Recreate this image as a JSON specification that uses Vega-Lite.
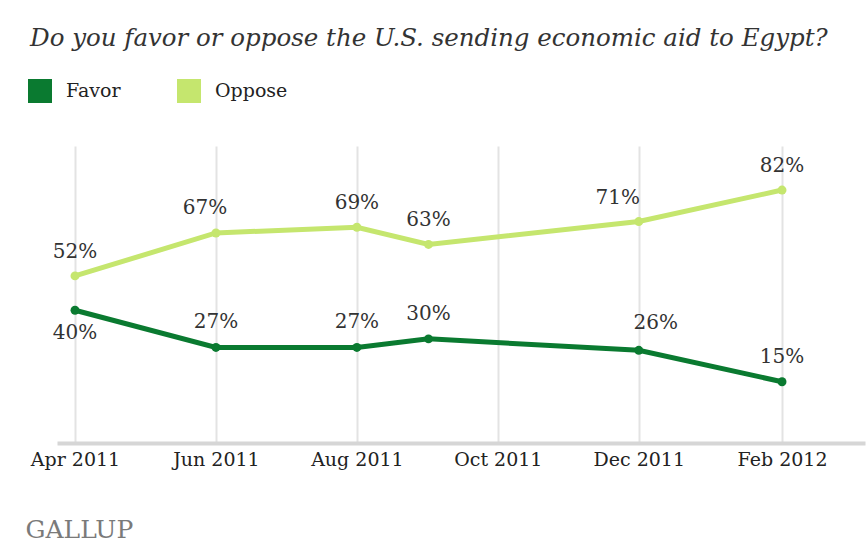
{
  "$schema": "https://vega.github.io/schema/vega-lite/v6.json",
  "autosize": {"type": "none"},
  "width": 808,
  "height": 297,
  "padding": {"left": 57, "top": 146, "right": 3, "bottom": 101},
  "background": "white",
  "title": {
    "text": "Do you favor or oppose the U.S. sending economic aid to Egypt?",
    "anchor": "start",
    "frame": "group",
    "orient": "top",
    "font": "DejaVu Serif",
    "fontStyle": "italic",
    "fontWeight": "normal",
    "fontSize": 24.5,
    "color": "#333333",
    "baseline": "alphabetic",
    "dx": -27,
    "offset": 9
  },
  "data": {
    "values": [
      {"date": "2011-04-01", "series": "Favor", "value": 40},
      {"date": "2011-06-01", "series": "Favor", "value": 27},
      {"date": "2011-08-01", "series": "Favor", "value": 27},
      {"date": "2011-09-01", "series": "Favor", "value": 30},
      {"date": "2011-12-01", "series": "Favor", "value": 26},
      {"date": "2012-02-01", "series": "Favor", "value": 15},
      {"date": "2011-04-01", "series": "Oppose", "value": 52},
      {"date": "2011-06-01", "series": "Oppose", "value": 67},
      {"date": "2011-08-01", "series": "Oppose", "value": 69},
      {"date": "2011-09-01", "series": "Oppose", "value": 63},
      {"date": "2011-12-01", "series": "Oppose", "value": 71},
      {"date": "2012-02-01", "series": "Oppose", "value": 82}
    ]
  },
  "transform": [{"calculate": "datum.value + '%'", "as": "label"}],
  "encoding": {
    "x": {
      "field": "date",
      "type": "temporal",
      "scale": {
        "type": "utc",
        "domain": [
          {"year": 2011, "month": 3, "date": 24, "hours": 5, "utc": true},
          {"year": 2012, "month": 3, "date": 7, "hours": 22, "utc": true}
        ]
      },
      "axis": {
        "title": "GALLUP",
        "values": [
          {"year": 2011, "month": 4, "date": 1, "utc": true},
          {"year": 2011, "month": 6, "date": 1, "utc": true},
          {"year": 2011, "month": 8, "date": 1, "utc": true},
          {"year": 2011, "month": 10, "date": 1, "utc": true},
          {"year": 2011, "month": 12, "date": 1, "utc": true},
          {"year": 2012, "month": 2, "date": 1, "utc": true}
        ],
        "format": "%b %Y",
        "grid": true,
        "gridColor": "#e3e3e3",
        "gridWidth": 2,
        "ticks": false,
        "domainColor": "#d6d6d6",
        "domainWidth": 4,
        "labelFont": "DejaVu Serif",
        "labelFontSize": 19,
        "labelColor": "#222222",
        "labelPadding": 7,
        "labelFlush": false,
        "labelOverlap": false,
        "titleFont": "DejaVu Serif",
        "titleFontSize": 25,
        "titleFontWeight": "normal",
        "titleColor": "#7a7a7a",
        "titleAnchor": "start",
        "titleAlign": "left",
        "titleBaseline": "alphabetic",
        "titleX": -32,
        "titleY": 94
      }
    },
    "y": {
      "field": "value",
      "type": "quantitative",
      "scale": {"domain": [-6.4, 97.4], "nice": false, "zero": false},
      "axis": null
    },
    "color": {
      "field": "series",
      "type": "nominal",
      "scale": {"domain": ["Favor", "Oppose"], "range": ["#0a7a30", "#c5e66e"]},
      "legend": {
        "title": null,
        "orient": "none",
        "legendX": -29,
        "legendY": -67,
        "direction": "horizontal",
        "symbolType": "square",
        "symbolSize": 576,
        "symbolStrokeWidth": 0,
        "symbolOpacity": 1,
        "labelFont": "DejaVu Serif",
        "labelFontSize": 19,
        "labelColor": "#222222",
        "labelOffset": 14,
        "columnPadding": 56
      }
    }
  },
  "layer": [
    {"mark": {"type": "line", "strokeWidth": 5}},
    {"mark": {"type": "point", "filled": true, "size": 80, "opacity": 1}},
    {
      "transform": [{"filter": "datum.series == 'Oppose' && datum.value != 67 && datum.value != 71"}],
      "mark": {"type": "text", "font": "DejaVu Serif", "fontSize": 20, "baseline": "middle", "dy": -24},
      "encoding": {"text": {"field": "label"}, "color": {"value": "#333333"}}
    },
    {
      "transform": [{"filter": "datum.series == 'Oppose' && datum.value == 67"}],
      "mark": {"type": "text", "font": "DejaVu Serif", "fontSize": 20, "baseline": "middle", "dy": -25, "dx": -11},
      "encoding": {"text": {"field": "label"}, "color": {"value": "#333333"}}
    },
    {
      "transform": [{"filter": "datum.series == 'Oppose' && datum.value == 71"}],
      "mark": {"type": "text", "font": "DejaVu Serif", "fontSize": 20, "baseline": "middle", "dy": -24, "dx": -21},
      "encoding": {"text": {"field": "label"}, "color": {"value": "#333333"}}
    },
    {
      "transform": [{"filter": "datum.series == 'Favor' && datum.value != 40 && datum.value != 26"}],
      "mark": {"type": "text", "font": "DejaVu Serif", "fontSize": 20, "baseline": "middle", "dy": -25},
      "encoding": {"text": {"field": "label"}, "color": {"value": "#333333"}}
    },
    {
      "transform": [{"filter": "datum.series == 'Favor' && datum.value == 26"}],
      "mark": {"type": "text", "font": "DejaVu Serif", "fontSize": 20, "baseline": "middle", "dy": -27, "dx": 17},
      "encoding": {"text": {"field": "label"}, "color": {"value": "#333333"}}
    },
    {
      "transform": [{"filter": "datum.series == 'Favor' && datum.value == 40"}],
      "mark": {"type": "text", "font": "DejaVu Serif", "fontSize": 20, "baseline": "middle", "dy": 23},
      "encoding": {"text": {"field": "label"}, "color": {"value": "#333333"}}
    }
  ],
  "config": {"view": {"stroke": null}}
}
